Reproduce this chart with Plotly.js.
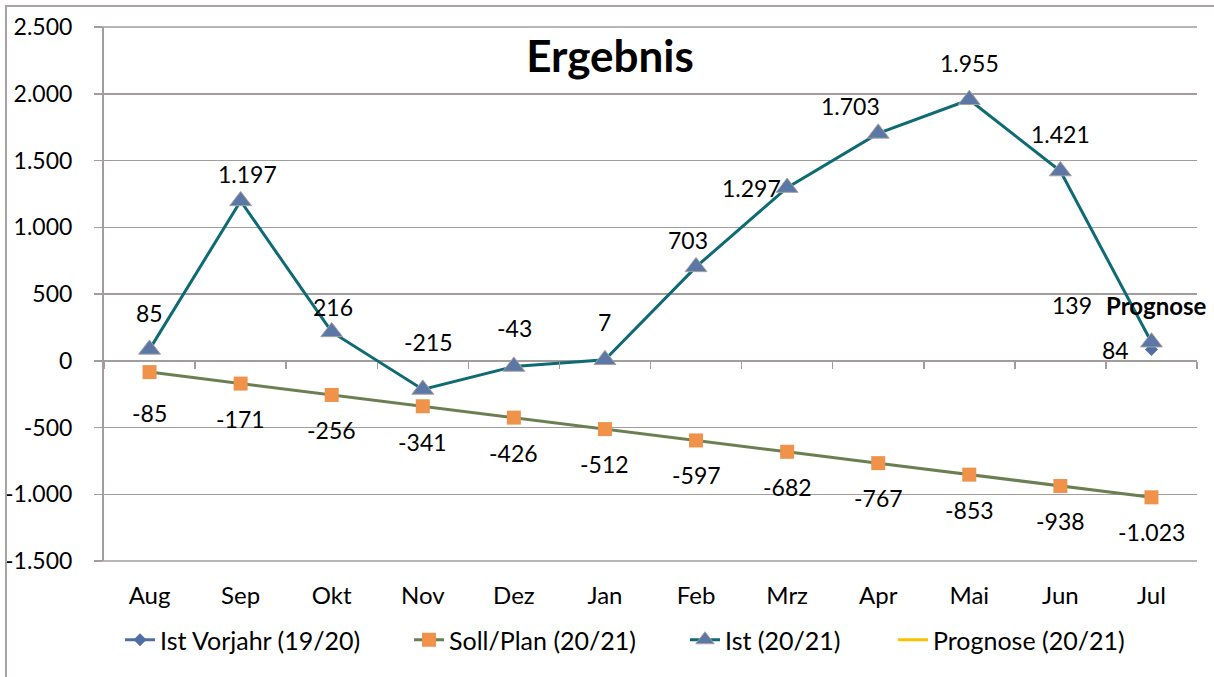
<!DOCTYPE html>
<html><head><meta charset="utf-8">
<script src="https://cdn.plot.ly/plotly-3.0.1.min.js"></script>
<style>
html,body{margin:0;padding:0;background:#fff;}
#wrap{position:relative;width:1214px;height:677px;overflow:hidden;}
#chart{width:1214px;height:677px;}
#frame{position:absolute;left:5px;top:5px;width:1300px;height:800px;border-left:2px solid #aaa3a3;border-top:2px solid #aaa3a3;pointer-events:none;}
</style></head><body>
<div id="wrap"><div id="chart"></div><div id="frame"></div></div>
<script>
const months = ['Aug','Sep','Okt','Nov','Dez','Jan','Feb','Mrz','Apr','Mai','Jun','Jul'];
const istVorjahr = [null,null,null,null,null,null,null,null,null,null,null,84];
const sollPlan = [-85,-171,-256,-341,-426,-512,-597,-682,-767,-853,-938,-1023];
const ist = [85,1197,216,-215,-43,7,703,1297,1703,1955,1421,139];
const prognose = [null,null,null,null,null,null,null,null,null,null,null,139];
const yTicks = [-1500,-1000,-500,0,500,1000,1500,2000,2500];
const seriesNames = ['Ist Vorjahr (19/20)','Soll/Plan (20/21)','Ist (20/21)','Prognose (20/21)'];
const prognoseLabel = 'Prognose';
const chartTitle = 'Ergebnis';

// label placement (pixel shifts, styling only)
const istShift = [[0,36],[7,27],[1,25],[6,47],[1,38],[0,38],[-8,27],[-36,0],[-28,27],[0,37],[0,37],[-79,37]];
const sollShift = [[0,-41],[0,-35],[0,-35],[0,-36],[0,-35],[0,-35],[0,-35],[0,-35],[0,-35],[0,-35],[0,-35],[0,-35]];

function fmt(v){
  const s = Math.abs(v).toString().replace(/\B(?=(\d{3})+(?!\d))/g,'.');
  return (v<0?'-':'') + s;
}

const FONT = 'Lato, "Open Sans", sans-serif';
const GRID = '#a39c9c';
const C = {
  vj:'#4f6ea3', sollLine:'#6b7f52', sollMarker:'#f0924a', istLine:'#0f6b73', istMarker:'#5a77a6', prog:'#ffc000'
};

const traces = [
  {x:months, y:istVorjahr, name:seriesNames[0], mode:'lines+markers', legend:'legend',
   line:{color:C.vj, width:3}, marker:{symbol:'diamond', size:10, color:C.vj}},
  {x:months, y:sollPlan, name:seriesNames[1], mode:'lines+markers', legend:'legend2',
   line:{color:C.sollLine, width:3}, marker:{symbol:'square', size:14, color:C.sollMarker}},
  {x:months, y:ist, name:seriesNames[2], mode:'lines+markers', legend:'legend3',
   line:{color:C.istLine, width:3}, marker:{symbol:'triangle-up', size:19, color:C.istMarker, line:{color:'#a8a0a0', width:1}}},
  {x:months, y:prognose, name:seriesNames[3], mode:'lines', legend:'legend4',
   line:{color:C.prog, width:3}},
  {x:[0], y:[null], xaxis:'x2', yaxis:'y', mode:'markers', showlegend:false, hoverinfo:'skip'}
];

const ann = [];
const lf = {family:FONT, size:23, color:'#000'};
ist.forEach((v,i)=>{ if(v!==null) ann.push({x:months[i], y:v, text:fmt(v), showarrow:false, xshift:istShift[i][0], yshift:istShift[i][1], font:lf}); });
sollPlan.forEach((v,i)=>{ if(v!==null) ann.push({x:months[i], y:v, text:fmt(v), showarrow:false, xshift:sollShift[i][0], yshift:sollShift[i][1], font:lf}); });
istVorjahr.forEach((v,i)=>{ if(v!==null) ann.push({x:months[i], y:v, text:fmt(v), showarrow:false, xshift:-36, yshift:0, font:lf}); });
prognose.forEach((v,i)=>{ if(v!==null) ann.push({x:months[i], y:v, text:'<b>'+prognoseLabel+'</b>', showarrow:false, xshift:5, yshift:37, font:{family:FONT, size:24, color:'#000'}}); });

const L = 104, R = 17, T = 27, B = 116, W = 1214, H = 677;
const pw = W-L-R, ph = H-T-B;
const yMin = yTicks[0], yMax = yTicks[yTicks.length-1];
// gridlines on the range edges (top / bottom of plot area)
const shapes = [0, 1].map(p => ({type:'line', xref:'paper', yref:'paper', x0:-8/pw, x1:1, y0:p, y1:p, line:{color:GRID, width:1.5}, layer:'above'}));
function px2x(p){ return (p-L)/pw; }
function py2y(p){ return (H-B-p)/ph; }
const legFont = {family:FONT, size:25, color:'#000'};
function leg(textStart){ return {x:px2x(textStart-42), y:py2y(640), xanchor:'left', yanchor:'middle', orientation:'h', font:legFont, bgcolor:'rgba(0,0,0,0)'}; }

const layout = {
  width:W, height:H,
  margin:{l:L, r:R, t:T, b:B, pad:0},
  paper_bgcolor:'#fff', plot_bgcolor:'#fff',
  font:{family:FONT, size:22, color:'#000'},
  title:{text:'<b>'+chartTitle+'</b>', font:{family:FONT, size:44, color:'#000'}, x:610/W, xref:'container', xanchor:'center', y:1-57/H, yref:'container', yanchor:'middle'},
  showlegend:true,
  legend:leg(162), legend2:leg(451), legend3:leg(727), legend4:leg(935),
  xaxis:{type:'category', categoryarray:months, range:[-0.5, months.length-0.5], showgrid:false, zeroline:false, showline:false,
    ticks:'outside', ticklen:13, tickcolor:'rgba(0,0,0,0)', tickfont:{family:FONT, size:24, color:'#000'}, automargin:false, fixedrange:true},
  xaxis2:{overlaying:'x', anchor:'free', position:(0-yMin)/(yMax-yMin), type:'linear', range:[-0.5, months.length-0.5], tick0:0.5, dtick:1,
    ticks:'outside', ticklen:7, tickwidth:1.5, tickcolor:GRID, showticklabels:false, showgrid:false, zeroline:false, showline:false, automargin:false},
  yaxis:{range:[yMin,yMax], tickvals:yTicks, ticktext:yTicks.map(fmt), showgrid:true, gridcolor:GRID, gridwidth:1.5,
    zeroline:true, zerolinecolor:GRID, zerolinewidth:1.5, showline:true, linecolor:GRID, linewidth:2,
    ticks:'outside', ticklen:8, tickwidth:1.5, tickcolor:GRID, ticklabelstandoff:17,
    tickfont:{family:FONT, size:23, color:'#000'}, automargin:false, fixedrange:true},
  shapes:shapes,
  annotations:ann
};

Plotly.newPlot('chart', traces, layout, {displayModeBar:false, staticPlot:true});
</script>
</body></html>
